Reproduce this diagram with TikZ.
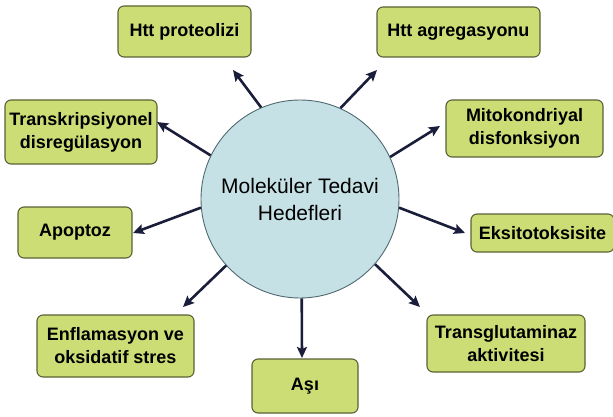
\documentclass[tikz,border=0pt]{standalone}
\usepackage{fontspec}
\setmainfont{Liberation Sans}
\usetikzlibrary{arrows.meta}
\definecolor{boxfill}{RGB}{205,221,118}
\definecolor{boxline}{RGB}{88,98,52}
\definecolor{hubfill}{RGB}{198,225,229}
\definecolor{hubline}{RGB}{80,105,112}
\definecolor{arrowcol}{RGB}{26,30,58}

\begin{document}
\begin{tikzpicture}[x=1pt,y=-1pt]
      \tikzset{target/.style={draw=boxline, fill=boxfill, line width=1.1pt, rounded corners=6pt,
        font=\fontsize{18}{23}\selectfont\bfseries, align=center, inner sep=0pt}};
      \tikzset{hub/.style={draw=hubline, fill=hubfill, line width=0.9pt, circle, minimum size=198pt,
        font=\fontsize{21}{27}\selectfont, align=center, inner sep=0pt}};
      \tikzset{link/.style={draw=arrowcol, line width=2.6pt,
        -{Stealth[length=11pt, width=10pt, inset=2pt]}}};
      \useasboundingbox (0,0) rectangle (613,417);

      \node[hub](hedef) at (300,199){Moleküler Tedavi\\Hedefleri};

      \node[target, minimum width=133pt, minimum height=51pt](prot) at (184.5,31.5){Htt proteolizi};
      \node[target, minimum width=163pt, minimum height=50pt](agr) at (458.5,32){Htt agregasyonu};
      \node[target, minimum width=152pt, minimum height=64pt](trans) at (81,132){Transkripsiyonel\\disregülasyon};
      \node[target, minimum width=157pt, minimum height=57pt](mito) at (524.5,128.5){Mitokondriyal\\disfonksiyon};
      \node[target, minimum width=114pt, minimum height=51pt](apo) at (75,232.5){Apoptoz};
      \node[target, minimum width=143pt, minimum height=38pt](eksi) at (542.5,233){Eksitotoksisite};
      \node[target, minimum width=157pt, minimum height=62pt](enfl) at (115.5,346){Enflamasyon ve\\oksidatif stres};
      \node[target, minimum width=106pt, minimum height=54pt](asi) at (305,386){Aşı};
      \node[target, minimum width=158pt, minimum height=57pt](tglu) at (506,343.5){Transglutaminaz\\aktivitesi};

      % ok uclari
      \coordinate (protT) at (233,70);
      \coordinate (agrT) at (377,70);
      \coordinate (transT) at (157,122);
      \coordinate (mitoT) at (440,126);
      \coordinate (apoT) at (133,233);
      \coordinate (eksiT) at (465,233);
      \coordinate (enflT) at (183,307);
      \coordinate (tgluT) at (420,307);
      \coordinate (asiT) at (302,358);

      \draw[link] (hedef.113) -- (protT);
      \draw[link] (hedef.66) -- (agrT);
      \draw[link] (hedef.154) -- (transT);
      \draw[link] (hedef.25) -- (mitoT);
      \draw[link] (hedef.185) -- (apoT);
      \draw[link] (hedef.-5) -- (eksiT);
      \draw[link] (hedef.222) -- (enflT);
      \draw[link] (hedef.-41) -- (tgluT);
      \draw[link] (hedef.-89) -- (asiT);
\end{tikzpicture}
\end{document}
